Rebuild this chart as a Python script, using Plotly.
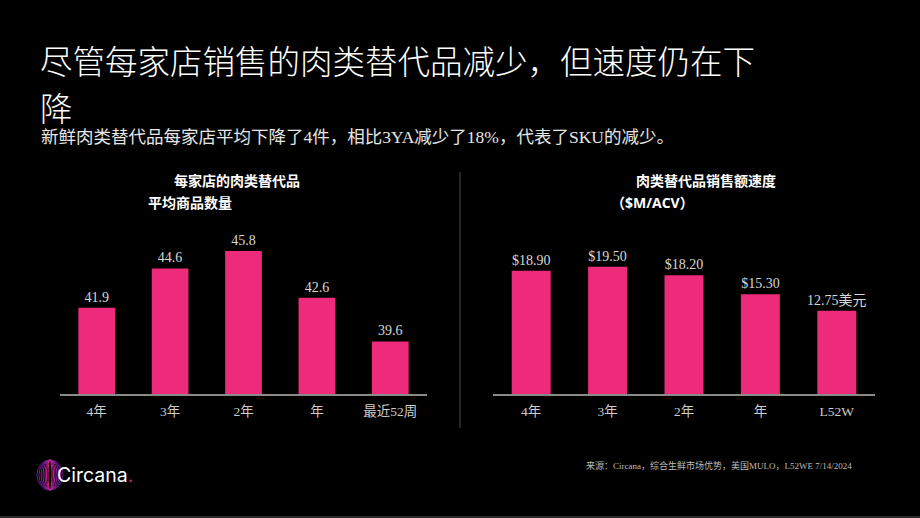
import plotly.graph_objects as go

# ---- data ----
left_categories = ["4年", "3年", "2年", "年", "最近52周"]
left_values = [41.9, 44.6, 45.8, 42.6, 39.6]
left_labels = ["41.9", "44.6", "45.8", "42.6", "39.6"]

right_categories = ["4年", "3年", "2年", "年", "L52W"]
right_values = [18.90, 19.50, 18.20, 15.30, 12.75]
right_labels = ["$18.90", "$19.50", "$18.20", "$15.30", "12.75美元"]

title_line1 = "尽管每家店销售的肉类替代品减少，但速度仍在下"
title_line2 = "降"
subtitle = "新鲜肉类替代品每家店平均下降了4件，相比3YA减少了18%，代表了SKU的减少。"
left_title = ["每家店的肉类替代品", "平均商品数量"]
right_title = ["肉类替代品销售额速度", "（$M/ACV）"]
source_text = "来源：Circana，综合生鲜市场优势，美国MULO，L52WE 7/14/2024"

W, H = 920, 518
PINK = "#EE2A7B"
SERIF = "Liberation Serif, Noto Sans CJK SC"
CJK = "Noto Sans CJK SC"


def px(x):
    return x / W


def py(y):
    return 1 - y / H


fig = go.Figure()

fig.add_trace(go.Bar(
    x=left_categories, y=left_values, text=left_labels,
    textposition="outside", cliponaxis=False, constraintext="none",
    textfont=dict(family=SERIF, size=14, color="#d8d8d8"),
    marker=dict(color=PINK, line=dict(width=0)), width=0.5,
    xaxis="x", yaxis="y", showlegend=False, hoverinfo="x+y",
))
fig.add_trace(go.Bar(
    x=right_categories, y=right_values, text=right_labels,
    textposition="outside", cliponaxis=False, constraintext="none",
    textfont=dict(family=SERIF, size=14, color="#d8d8d8"),
    marker=dict(color=PINK, line=dict(width=0)), width=0.51,
    xaxis="x2", yaxis="y2", showlegend=False, hoverinfo="x+y",
))

ytop, ybot = 225, 394
xaxis_common = dict(
    showline=True, linecolor="#8a8a8a", linewidth=1.5, showgrid=False,
    zeroline=False, ticks="", ticklabelstandoff=4,
    tickfont=dict(family=SERIF, size=13.5, color="#cccccc"),
    fixedrange=True,
)
yaxis_common = dict(visible=False, showgrid=False, zeroline=False, fixedrange=True)

fig.update_layout(
    width=W, height=H,
    margin=dict(l=0, r=0, t=0, b=0),
    paper_bgcolor="#000000", plot_bgcolor="#000000",
    bargap=0.5,
    xaxis=dict(domain=[px(60), px(427)], anchor="y", **xaxis_common),
    yaxis=dict(domain=[py(ybot), py(ytop)], range=[36, 36 + (ybot - ytop) / 14.6], **yaxis_common),
    xaxis2=dict(domain=[px(493), px(875)], anchor="y2", **xaxis_common),
    yaxis2=dict(domain=[py(ybot), py(ytop)], range=[0, (ybot - ytop) / 6.52], **yaxis_common),
)

ann = []
ann.append(dict(text=title_line1, x=px(38), y=py(60), xanchor="left", yanchor="middle",
                font=dict(family=CJK, size=32.5, color="#ffffff", weight=300)))
ann.append(dict(text=title_line2, x=px(38), y=py(106), xanchor="left", yanchor="middle",
                font=dict(family=CJK, size=32.5, color="#ffffff", weight=300)))
ann.append(dict(text=subtitle, x=px(39), y=py(137), xanchor="left", yanchor="middle",
                font=dict(family=SERIF, size=17.5, color="#e6e6e6")))
ann.append(dict(text="<b>%s</b>" % left_title[0], x=px(172), y=py(180), xanchor="left", yanchor="middle",
                font=dict(family=CJK, size=14, color="#ffffff")))
ann.append(dict(text="<b>%s</b>" % left_title[1], x=px(146), y=py(202), xanchor="left", yanchor="middle",
                font=dict(family=CJK, size=14, color="#ffffff")))
ann.append(dict(text="<b>%s</b>" % right_title[0], x=px(634), y=py(180), xanchor="left", yanchor="middle",
                font=dict(family=CJK, size=14, color="#ffffff")))
ann.append(dict(text="<b>%s</b>" % right_title[1], x=px(609), y=py(202), xanchor="left", yanchor="middle",
                font=dict(family="Open Sans, " + CJK, size=14, color="#ffffff")))
ann.append(dict(text=source_text, x=px(584), y=py(465), xanchor="left", yanchor="middle",
                font=dict(family=SERIF, size=9, color="#bbbbbb")))
ann.append(dict(text="Circana<span style='color:#C8207E'>.</span>", x=px(55), y=py(475),
                xanchor="left", yanchor="middle",
                font=dict(family="Inter, Roboto", size=19.5, color="#ffffff")))
for a in ann:
    a.update(xref="paper", yref="paper", showarrow=False)
fig.update_layout(annotations=ann)

shapes = []
# divider
shapes.append(dict(type="line", xref="paper", yref="paper", x0=px(460), x1=px(460),
                   y0=py(172), y1=py(428), line=dict(color="#333333", width=1.5)))
# bottom border line
shapes.append(dict(type="line", xref="paper", yref="paper", x0=0, x1=1,
                   y0=py(517), y1=py(517), line=dict(color="#555555", width=1)))
# logo rings
ring_colors = ["#5B1E8C", "#6F1F94", "#84209A", "#9A21A0", "#B022A0", "#C2238E", "#D0257E"]
ring_half_widths = [13, 11, 9, 7, 5, 3.5, 2]
cx, cy, hh = 50, 475, 15
for c, hw in zip(ring_colors, ring_half_widths):
    shapes.append(dict(type="circle", xref="paper", yref="paper",
                       x0=px(cx - hw), x1=px(cx + hw), y0=py(cy + hh), y1=py(cy - hh),
                       line=dict(color=c, width=1)))
fig.update_layout(shapes=shapes)

fig.write_html("out.html")
